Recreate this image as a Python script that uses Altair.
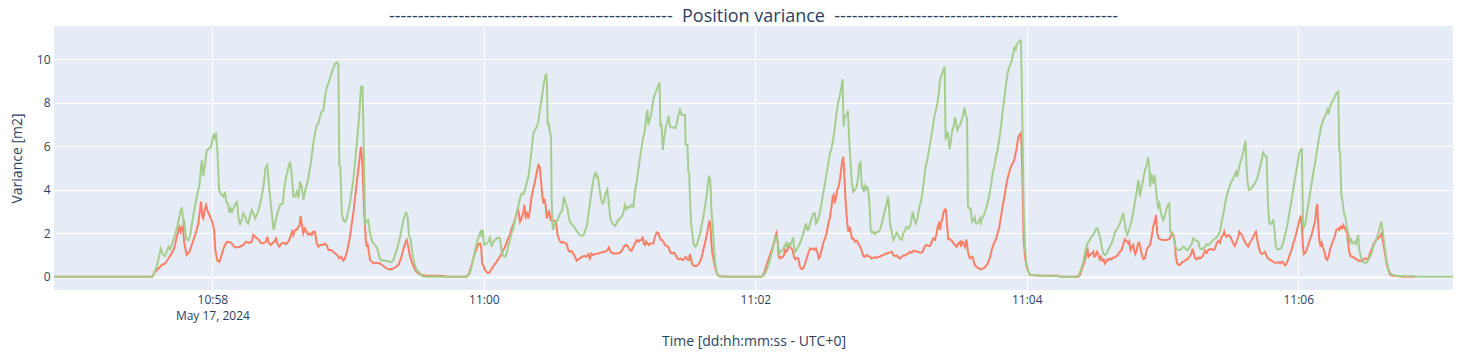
import altair as alt
import pandas as pd

# ---------------- data (seconds after 10:56:50 UTC, variance in m2) ----------------
START = "2024-05-17T10:56:50Z"
X_END_S = 618.4
TICK_S = [70, 190, 310, 430, 550]          # 10:58, 11:00, 11:02, 11:04, 11:06
Y_TICKS = [0, 2, 4, 6, 8, 10]

green_points = [
    (0, 0), (43.5, 0), (45.4, 0.46), (47.2, 1.30), (48.1, 1.04), (49.1, 0.95), (50.6, 1.38), (51.3, 1.26),
    (52.0, 1.46), (53.5, 1.92), (54.6, 2.38), (55.7, 2.91), (56.5, 3.19), (57.2, 2.45), (57.6, 2.53),
    (58.4, 1.72), (59.4, 1.69), (60.2, 1.92), (61.6, 2.84), (63.1, 3.68), (64.3, 4.22), (65.3, 5.37),
    (66.0, 4.63), (66.8, 5.21), (67.5, 5.80), (68.5, 5.90), (69.4, 5.98), (70.5, 6.52), (71.2, 6.37),
    (71.6, 6.63), (72.2, 5.83), (73.0, 3.99), (73.8, 3.80), (74.9, 3.68), (75.6, 3.91), (76.1, 3.45),
    (76.8, 3.37), (77.5, 2.94), (78.1, 3.14), (78.7, 2.99), (79.6, 3.22), (80.3, 3.37), (80.9, 3.44),
    (81.5, 2.76), (82.2, 2.38), (83.1, 2.68), (83.7, 2.91), (84.5, 2.76), (85.2, 2.53), (85.9, 2.45),
    (86.7, 2.84), (87.4, 3.07), (88.1, 2.91), (88.9, 2.68), (89.9, 2.91), (90.8, 3.22), (91.8, 3.68),
    (92.8, 4.29), (93.4, 4.98), (94.3, 5.14), (95.2, 3.99), (96.4, 2.76), (97.1, 2.15), (97.7, 2.45),
    (98.7, 2.91), (99.9, 3.30), (101.1, 3.37), (101.7, 3.99), (102.6, 4.60), (103.5, 4.98), (104.3, 5.29),
    (105.1, 4.68), (105.8, 3.68), (106.5, 3.68), (107.3, 3.91), (108.0, 3.60), (108.8, 4.37), (109.5, 4.14),
    (110.2, 3.53), (111.1, 3.99), (112.4, 4.52), (113.5, 5.21), (114.6, 6.13), (116.1, 6.98), (116.9, 7.06),
    (117.6, 7.36), (118.3, 7.59), (119.1, 7.67), (119.8, 8.28), (120.5, 8.67), (121.3, 8.90), (122.0, 9.13),
    (122.7, 9.36), (123.5, 9.59), (124.2, 9.79), (125.0, 9.85), (125.7, 9.74), (126.1, 5.14), (126.6, 5.06),
    (127.2, 2.91), (127.9, 2.61), (128.6, 2.53), (129.4, 2.68), (130.8, 3.37), (132.3, 4.45), (133.8, 6.06),
    (135.0, 7.52), (135.7, 8.74), (136.4, 8.74), (137.0, 5.52), (137.5, 2.45), (138.2, 2.53), (138.9, 2.61),
    (139.7, 1.99), (140.7, 1.61), (141.9, 1.46), (142.9, 1.30), (144.1, 0.80), (145.6, 0.74), (147.0, 0.74),
    (149.0, 0.66), (150.0, 0.77), (151.5, 1.23), (153.0, 1.84), (154.4, 2.61), (155.5, 2.94), (156.2, 2.84),
    (156.9, 1.92), (157.7, 1.69), (158.4, 1.07), (159.3, 0.61), (160.3, 0.31), (161.8, 0.15), (162.8, 0.02),
    (164.0, 0), (182.4, 0), (183.5, 0.08), (184.6, 0.46), (185.8, 1.07), (186.8, 1.53), (187.9, 1.90),
    (188.6, 2.07), (189.0, 1.84), (189.6, 2.15), (190.1, 1.46), (191.3, 1.53), (192.0, 1.61), (192.7, 1.81),
    (193.5, 1.38), (194.2, 1.61), (194.9, 1.69), (195.7, 1.76), (196.4, 1.81), (197.1, 1.76), (197.9, 1.15),
    (198.6, 0.95), (199.4, 0.92), (200.1, 1.07), (201.1, 1.53), (202.3, 2.02), (203.0, 2.22), (203.8, 2.61),
    (204.5, 2.91), (205.2, 3.22), (206.0, 3.60), (206.7, 3.83), (207.5, 3.80), (208.2, 3.99), (208.9, 4.29),
    (209.7, 4.60), (210.4, 5.14), (211.1, 5.83), (211.9, 6.60), (212.6, 6.75), (213.3, 6.87), (214.1, 7.13),
    (214.8, 7.67), (215.6, 8.21), (216.3, 8.74), (217.0, 9.13), (217.6, 9.36), (217.9, 8.90), (218.2, 7.06),
    (218.5, 6.98), (218.8, 7.09), (219.1, 6.60), (219.4, 6.67), (219.7, 6.29), (220.0, 3.53), (220.3, 2.45),
    (220.6, 2.15), (221.4, 2.45), (222.6, 2.61), (223.7, 2.91), (224.7, 3.07), (225.4, 3.68), (226.2, 3.37),
    (227.0, 3.14), (227.6, 2.68), (228.5, 2.45), (229.6, 2.33), (230.6, 2.18), (231.8, 1.99), (232.9, 1.89),
    (234.0, 1.90), (234.7, 2.07), (235.6, 2.38), (236.5, 3.07), (237.7, 3.99), (238.7, 4.60), (239.4, 4.83),
    (239.9, 4.52), (240.3, 4.68), (241.0, 4.14), (241.8, 3.60), (242.4, 3.37), (243.1, 3.45), (243.8, 3.83),
    (244.6, 4.02), (245.3, 3.30), (246.0, 2.61), (246.9, 2.45), (248.0, 2.33), (248.7, 2.45), (249.4, 2.61),
    (250.2, 2.68), (250.9, 2.76), (251.6, 2.91), (252.4, 3.30), (253.1, 3.10), (253.8, 3.22), (254.6, 3.19),
    (255.3, 3.30), (256.1, 3.22), (256.8, 3.91), (257.6, 4.37), (258.3, 4.91), (259.0, 5.44), (259.8, 5.98),
    (260.5, 6.44), (261.1, 6.67), (261.7, 7.29), (262.3, 7.67), (262.7, 6.98), (263.2, 7.21), (263.9, 7.44),
    (264.6, 7.90), (265.2, 8.28), (266.1, 8.51), (266.7, 8.67), (267.3, 8.85), (267.7, 8.93), (268.0, 6.90),
    (268.5, 7.06), (269.1, 5.83), (269.7, 6.37), (270.5, 6.90), (271.3, 7.21), (271.7, 7.39), (272.3, 6.90),
    (273.0, 6.86), (273.8, 6.86), (274.7, 6.83), (275.3, 7.06), (276.0, 7.44), (276.7, 7.67), (277.5, 7.44),
    (278.2, 7.44), (278.9, 7.44), (279.2, 6.06), (280.0, 6.06), (280.4, 4.83), (280.8, 4.75), (281.1, 3.68),
    (281.6, 2.45), (282.3, 1.84), (282.9, 1.46), (283.5, 1.38), (284.1, 1.46), (284.8, 1.69), (285.6, 1.99),
    (286.7, 2.61), (287.8, 3.22), (288.8, 3.99), (289.5, 4.65), (290.1, 4.45), (290.6, 3.07), (291.2, 2.30),
    (291.7, 1.38), (292.3, 0.61), (292.9, 0.23), (293.7, 0.03), (294.4, 0), (312.8, 0), (313.8, 0.08),
    (315.0, 0.31), (316.2, 0.69), (317.2, 1.07), (318.3, 1.53), (319.0, 1.84), (319.4, 1.87), (320.0, 1.53),
    (320.6, 1.07), (321.2, 1.15), (322.1, 1.23), (322.8, 1.38), (323.6, 1.53), (324.0, 1.38), (324.6, 1.53),
    (325.3, 1.41), (326.1, 1.61), (326.7, 1.81), (327.1, 1.38), (327.7, 1.15), (328.3, 1.23), (329.0, 1.38),
    (329.7, 1.53), (330.5, 1.76), (331.2, 1.99), (331.8, 2.22), (332.4, 2.45), (333.0, 2.15), (333.4, 2.15),
    (334.2, 2.45), (334.9, 2.68), (335.6, 2.91), (336.4, 2.91), (336.8, 2.45), (337.4, 2.53), (338.3, 2.84),
    (339.3, 3.37), (340.0, 3.83), (340.8, 4.29), (341.5, 4.75), (342.3, 5.21), (343.0, 5.67), (343.7, 5.90),
    (344.5, 6.37), (345.2, 6.90), (345.9, 7.52), (346.7, 8.05), (347.1, 8.21), (347.7, 8.51), (348.2, 8.82),
    (348.6, 9.08), (349.0, 6.90), (349.6, 7.36), (350.4, 7.44), (350.9, 7.64), (351.5, 6.29), (352.1, 5.21),
    (352.7, 4.29), (353.3, 3.91), (354.0, 3.99), (354.8, 4.14), (355.5, 4.60), (355.9, 5.14), (356.5, 5.25),
    (357.1, 4.14), (357.7, 3.99), (358.2, 4.17), (358.6, 3.99), (359.2, 4.14), (359.8, 4.06), (360.4, 3.45),
    (361.0, 2.15), (361.6, 2.02), (362.1, 2.07), (362.9, 1.96), (363.6, 2.07), (364.3, 2.06), (365.1, 2.15),
    (365.9, 2.45), (366.6, 2.76), (367.3, 3.07), (368.1, 3.37), (368.7, 3.71), (369.1, 3.22), (369.5, 2.45),
    (370.3, 2.07), (371.0, 1.69), (371.8, 1.84), (372.5, 2.02), (373.2, 1.92), (374.0, 1.72), (374.7, 1.69),
    (375.4, 1.99), (376.2, 2.15), (376.9, 2.30), (377.6, 2.22), (378.4, 2.30), (379.1, 2.68), (379.6, 2.99),
    (380.3, 2.61), (381.0, 2.45), (381.8, 2.76), (382.5, 3.22), (383.2, 3.45), (383.8, 3.83), (384.6, 4.45),
    (385.3, 5.06), (386.0, 5.37), (386.8, 5.83), (387.5, 6.29), (388.3, 6.75), (389.0, 7.29), (389.7, 7.59),
    (390.5, 7.98), (391.2, 8.51), (391.6, 9.05), (392.4, 9.28), (393.1, 9.51), (393.7, 9.66), (394.1, 6.37),
    (394.6, 6.44), (395.0, 6.67), (395.3, 6.44), (395.9, 5.86), (396.5, 6.29), (397.1, 6.75), (397.7, 6.90),
    (398.3, 7.33), (398.7, 7.13), (399.3, 6.75), (399.9, 6.90), (400.5, 6.98), (401.2, 7.21), (401.9, 7.44),
    (402.4, 7.79), (403.0, 7.44), (403.6, 7.29), (404.0, 3.22), (404.6, 3.14), (405.2, 3.14), (405.8, 2.53),
    (406.4, 2.61), (407.0, 2.73), (407.5, 2.45), (408.1, 2.45), (408.7, 2.53), (409.3, 2.68), (409.7, 2.48),
    (410.3, 2.68), (411.1, 2.84), (411.8, 3.07), (412.6, 3.37), (413.3, 3.68), (414.2, 4.22), (414.9, 4.75),
    (415.6, 5.06), (416.4, 5.52), (417.1, 5.83), (417.8, 6.29), (418.6, 6.90), (419.3, 7.59), (420.1, 8.21),
    (420.8, 8.82), (421.5, 9.36), (422.3, 9.66), (423.0, 9.82), (423.4, 9.97), (424.0, 10.28), (424.6, 10.58),
    (425.1, 10.40), (425.5, 10.66), (426.2, 10.77), (427.0, 10.86), (427.4, 10.86), (427.9, 8.28), (428.3, 5.21),
    (428.7, 2.76), (429.2, 1.38), (429.9, 0.61), (430.7, 0.23), (431.4, 0.11), (432.1, 0.08), (439.5, 0.03),
    (443.9, 0.02), (444.7, 0), (451.3, 0), (452.8, 0.03), (453.9, 0.31), (455.0, 0.69), (456.0, 1.23),
    (456.7, 1.53), (457.5, 1.61), (458.1, 1.76), (458.7, 1.84), (459.4, 1.92), (460.1, 2.07), (460.7, 2.22),
    (461.3, 2.22), (461.9, 1.99), (462.5, 1.76), (463.1, 1.38), (463.8, 1.07), (464.5, 1.00), (465.3, 1.07),
    (466.0, 1.23), (466.7, 1.38), (467.5, 1.53), (468.2, 1.76), (469.0, 2.07), (469.7, 2.15), (470.4, 2.30),
    (471.2, 2.45), (471.9, 2.68), (472.6, 2.94), (473.3, 2.45), (473.8, 2.15), (474.4, 1.92), (475.0, 2.07),
    (475.6, 2.30), (476.4, 2.61), (477.1, 2.99), (477.8, 3.45), (478.6, 3.91), (479.3, 4.45), (479.7, 4.14),
    (480.0, 3.68), (480.5, 3.99), (481.1, 4.29), (481.8, 4.68), (482.5, 4.98), (483.3, 5.29), (483.7, 5.49),
    (484.2, 4.98), (484.5, 4.14), (485.0, 4.75), (485.5, 4.45), (485.9, 4.29), (486.4, 4.68), (486.8, 4.37),
    (487.4, 3.68), (488.0, 3.22), (488.6, 3.37), (489.2, 2.99), (489.8, 2.76), (490.3, 2.61), (491.1, 2.84),
    (491.8, 3.14), (492.4, 3.30), (493.0, 3.37), (493.4, 2.07), (494.0, 1.99), (494.8, 1.84), (495.5, 1.46),
    (496.2, 1.26), (497.0, 1.23), (497.7, 1.23), (498.4, 1.30), (499.2, 1.38), (499.9, 1.33), (500.7, 1.23),
    (501.4, 1.26), (502.1, 1.38), (502.9, 1.50), (503.6, 1.76), (504.3, 1.69), (505.1, 1.66), (505.8, 1.61),
    (506.5, 1.30), (507.3, 1.26), (508.0, 1.30), (508.8, 1.38), (509.5, 1.50), (510.2, 1.46), (511.0, 1.53),
    (511.7, 1.61), (512.4, 1.69), (513.2, 1.76), (513.9, 1.81), (514.6, 1.92), (515.4, 2.07), (516.0, 2.45),
    (516.6, 2.76), (517.2, 3.07), (517.7, 3.37), (518.3, 3.68), (519.1, 3.99), (519.8, 4.22), (520.5, 4.37),
    (521.3, 4.52), (521.9, 4.68), (522.5, 4.83), (523.0, 4.60), (523.5, 4.83), (524.2, 5.21), (525.0, 5.44),
    (525.7, 5.75), (526.3, 6.06), (526.7, 6.26), (527.2, 4.91), (527.6, 4.37), (528.2, 3.99), (528.9, 4.02),
    (529.7, 4.14), (530.4, 4.22), (531.1, 4.37), (531.9, 4.52), (532.6, 4.83), (533.3, 5.14), (534.1, 5.52),
    (534.5, 5.71), (535.3, 5.55), (536.0, 5.52), (536.6, 3.37), (537.2, 2.45), (537.8, 2.42), (538.4, 2.48),
    (538.9, 2.64), (539.5, 2.15), (540.1, 1.38), (540.9, 1.26), (541.6, 1.26), (542.3, 1.30), (543.1, 1.50),
    (543.8, 1.76), (544.5, 2.07), (545.3, 2.45), (546.0, 2.91), (546.8, 3.37), (547.5, 3.83), (548.2, 4.29),
    (549.0, 4.75), (549.7, 5.21), (550.4, 5.67), (551.0, 5.83), (551.6, 5.86), (552.1, 2.45), (552.5, 2.27),
    (553.1, 2.45), (553.7, 2.84), (554.4, 3.30), (555.1, 3.76), (555.9, 4.29), (556.6, 4.75), (557.4, 5.21),
    (558.1, 5.67), (558.8, 6.13), (559.6, 6.60), (560.0, 6.87), (560.6, 7.06), (561.3, 7.29), (562.1, 7.44),
    (562.5, 7.52), (562.9, 7.67), (563.5, 7.55), (564.0, 7.82), (564.7, 7.98), (565.5, 8.13), (566.2, 8.28),
    (566.9, 8.44), (567.7, 8.51), (568.1, 5.83), (568.5, 5.75), (569.0, 3.83), (569.6, 3.45), (570.2, 2.91),
    (570.8, 2.76), (571.3, 2.38), (571.9, 2.07), (572.5, 1.84), (573.0, 1.61), (573.4, 1.69), (573.9, 1.53),
    (574.3, 1.56), (574.9, 1.61), (575.5, 1.50), (576.1, 1.76), (576.5, 1.92), (576.9, 1.26), (577.5, 1.00),
    (578.1, 0.77), (578.7, 0.67), (579.4, 0.64), (580.2, 0.64), (580.9, 0.77), (581.7, 0.92), (582.4, 1.10),
    (583.1, 1.38), (583.9, 1.56), (584.6, 1.76), (585.3, 1.99), (586.1, 2.30), (586.7, 2.53), (587.3, 2.15),
    (587.8, 1.69), (588.4, 1.23), (589.0, 0.77), (589.8, 0.38), (590.5, 0.20), (591.2, 0.11), (592.0, 0.08),
    (593.4, 0.05), (596.4, 0.03), (600.8, 0.02), (603.7, 0), (618.4, 0),
]

red_points = [
    (0, 0), (43.5, 0), (44.7, 0.23), (46.2, 0.38), (47.6, 0.54), (49.1, 0.61), (50.6, 0.84), (52.0, 1.07),
    (53.1, 1.30), (54.3, 1.84), (55.4, 2.30), (56.0, 2.07), (56.9, 2.38), (57.6, 1.53), (58.7, 1.00),
    (59.9, 1.15), (60.9, 1.46), (62.4, 1.92), (63.8, 2.45), (65.0, 3.45), (65.6, 2.76), (66.0, 2.68),
    (66.6, 3.07), (67.2, 3.30), (68.0, 2.99), (69.0, 2.76), (70.2, 2.45), (70.8, 2.15), (71.3, 1.23),
    (72.2, 0.74), (73.1, 0.69), (74.1, 1.00), (75.2, 1.38), (76.4, 1.60), (77.5, 1.60), (78.6, 1.53),
    (79.6, 1.38), (80.8, 1.35), (82.2, 1.38), (83.7, 1.46), (84.9, 1.61), (85.9, 1.56), (87.4, 1.61),
    (88.1, 1.92), (89.2, 1.81), (90.3, 1.72), (91.4, 1.56), (92.5, 1.53), (93.7, 1.61), (94.3, 1.84),
    (94.9, 1.56), (95.8, 1.46), (96.7, 1.56), (97.4, 1.61), (98.1, 1.76), (98.7, 1.53), (99.6, 1.38),
    (100.6, 1.53), (101.7, 1.56), (102.6, 1.50), (103.6, 1.61), (104.6, 1.84), (105.2, 2.07), (105.8, 1.92),
    (106.5, 2.15), (107.3, 2.15), (108.0, 2.30), (108.5, 2.33), (109.0, 2.79), (109.6, 2.38), (110.2, 1.99),
    (111.0, 2.22), (111.7, 2.07), (112.4, 1.92), (113.2, 1.99), (113.9, 1.92), (114.6, 2.07), (115.4, 2.07),
    (116.1, 1.53), (116.9, 1.38), (117.6, 1.46), (118.8, 1.46), (119.8, 1.53), (120.5, 1.46), (121.3, 1.23),
    (122.3, 1.23), (123.5, 1.15), (124.2, 1.07), (125.2, 1.00), (126.1, 0.84), (127.0, 0.92), (127.9, 0.74),
    (128.6, 0.84), (129.7, 1.23), (130.8, 1.84), (132.3, 2.91), (133.8, 4.29), (135.0, 5.37), (135.7, 5.98),
    (136.3, 5.21), (137.0, 3.22), (137.8, 1.69), (138.2, 1.38), (138.6, 1.53), (139.7, 0.77), (141.2, 0.61),
    (142.6, 0.64), (144.1, 0.61), (145.6, 0.49), (147.0, 0.38), (147.8, 0.34), (149.3, 0.34), (150.8, 0.43),
    (152.2, 0.54), (153.4, 0.84), (154.4, 1.26), (155.5, 1.61), (155.9, 1.69), (156.6, 1.38), (157.4, 0.92),
    (158.4, 0.61), (159.6, 0.31), (161.1, 0.15), (162.5, 0.08), (164.0, 0.06), (168.4, 0.05), (172.6, 0.03),
    (173.1, 0), (182.4, 0), (183.5, 0.15), (184.6, 0.54), (185.8, 1.00), (186.8, 1.30), (187.6, 1.50),
    (188.3, 1.53), (188.8, 1.38), (189.3, 0.61), (189.9, 0.49), (190.5, 0.31), (191.3, 0.20), (192.3, 0.18),
    (193.2, 0.31), (194.2, 0.49), (195.2, 0.61), (196.1, 0.77), (197.1, 0.92), (198.2, 1.15), (199.4, 1.38),
    (200.5, 1.69), (201.6, 1.95), (202.3, 2.22), (203.0, 2.38), (204.1, 2.76), (205.0, 3.14), (205.5, 2.91),
    (206.0, 2.53), (206.7, 2.68), (207.5, 2.99), (207.9, 3.30), (208.5, 2.76), (209.1, 2.91), (209.7, 2.68),
    (210.4, 3.07), (211.1, 3.68), (211.9, 4.06), (212.6, 4.37), (213.3, 4.75), (214.1, 5.14), (214.7, 5.06),
    (215.3, 4.37), (215.9, 3.68), (216.3, 3.37), (216.7, 3.60), (217.3, 3.30), (217.8, 2.68), (218.5, 2.91),
    (218.9, 2.99), (219.5, 2.61), (220.3, 2.58), (221.2, 2.58), (221.9, 2.53), (222.6, 1.92), (223.7, 1.61),
    (224.4, 1.56), (225.1, 1.61), (225.9, 1.53), (226.6, 1.53), (227.3, 1.23), (228.1, 1.15), (228.8, 1.18),
    (229.5, 1.07), (230.3, 0.92), (231.0, 0.74), (231.8, 0.80), (232.5, 0.84), (233.2, 0.92), (234.7, 0.95),
    (235.4, 0.92), (236.2, 1.04), (236.9, 0.84), (237.6, 1.07), (238.4, 1.00), (239.1, 1.04), (240.6, 1.07),
    (242.1, 1.13), (243.5, 1.15), (244.7, 1.23), (245.3, 1.35), (246.0, 1.15), (247.2, 1.07), (248.7, 1.07),
    (250.2, 1.10), (251.2, 1.23), (252.1, 1.41), (253.1, 1.46), (253.8, 1.38), (254.6, 1.23), (255.3, 1.18),
    (256.1, 1.38), (256.8, 1.53), (257.6, 1.69), (258.3, 1.61), (259.0, 1.69), (259.8, 1.69), (260.2, 1.84),
    (260.7, 1.53), (261.3, 1.46), (261.7, 1.61), (262.3, 1.53), (262.9, 1.46), (263.5, 1.53), (264.2, 1.53),
    (264.9, 1.53), (265.7, 1.84), (266.4, 2.04), (267.2, 1.99), (267.6, 1.84), (268.2, 1.69), (268.8, 1.69),
    (269.4, 1.61), (270.1, 1.46), (270.8, 1.41), (271.6, 1.38), (272.0, 1.23), (272.6, 1.10), (273.3, 1.07),
    (274.1, 1.10), (274.8, 1.00), (275.5, 0.84), (276.3, 0.80), (277.0, 0.84), (277.8, 0.77), (278.5, 0.80),
    (279.2, 0.92), (280.0, 0.80), (280.7, 0.77), (281.1, 1.04), (281.6, 0.84), (282.0, 0.61), (282.6, 0.51),
    (283.4, 0.49), (284.1, 0.49), (284.8, 0.57), (285.6, 0.69), (286.3, 0.92), (287.0, 1.23), (288.2, 1.76),
    (289.2, 2.30), (289.7, 2.58), (290.1, 2.45), (290.6, 1.53), (291.0, 1.07), (291.5, 0.84), (292.0, 0.54),
    (292.6, 0.28), (293.2, 0.11), (294.1, 0.03), (296.6, 0.02), (297.3, 0), (312.8, 0), (313.8, 0.15),
    (315.0, 0.54), (316.2, 0.92), (317.2, 1.23), (318.3, 1.56), (319.0, 1.92), (319.4, 2.02), (319.9, 1.61),
    (320.3, 0.92), (320.9, 0.84), (321.6, 0.92), (322.1, 0.89), (322.7, 1.00), (323.1, 1.23), (323.6, 1.15),
    (324.2, 1.23), (324.7, 1.41), (325.3, 1.38), (325.9, 1.30), (326.5, 1.23), (327.1, 0.92), (327.7, 0.80),
    (328.3, 0.87), (329.0, 0.84), (329.7, 0.46), (330.5, 0.35), (331.2, 0.38), (332.0, 0.61), (332.7, 0.84),
    (333.4, 1.07), (334.2, 1.30), (334.9, 1.26), (335.6, 1.30), (336.4, 1.23), (336.8, 1.30), (337.4, 1.15),
    (338.0, 0.84), (338.6, 0.92), (339.3, 1.23), (340.0, 1.53), (340.8, 1.76), (341.5, 1.99), (342.3, 2.45),
    (343.0, 2.76), (343.7, 3.22), (344.2, 3.68), (344.6, 3.76), (345.0, 3.37), (345.6, 3.60), (346.2, 3.99),
    (346.8, 4.14), (347.4, 4.45), (347.9, 4.91), (348.4, 5.29), (348.9, 5.52), (349.3, 4.75), (349.8, 3.68),
    (350.4, 2.76), (350.8, 2.30), (351.2, 2.07), (351.8, 2.30), (352.3, 1.99), (352.7, 1.76), (353.3, 1.76),
    (354.0, 1.61), (354.8, 1.66), (355.5, 1.53), (356.3, 1.38), (357.0, 1.23), (357.7, 0.95), (358.5, 0.92),
    (359.2, 1.00), (359.9, 0.95), (360.7, 0.92), (361.4, 0.84), (362.1, 0.87), (362.9, 0.89), (363.6, 0.87),
    (364.3, 0.92), (365.1, 0.92), (365.9, 0.98), (366.6, 1.00), (367.3, 1.04), (368.1, 1.07), (368.8, 1.10),
    (369.5, 1.12), (370.3, 1.15), (371.0, 1.00), (371.8, 0.95), (372.5, 0.98), (373.2, 0.89), (374.0, 0.84),
    (374.7, 0.92), (375.4, 0.98), (376.2, 0.98), (376.9, 1.04), (377.6, 1.07), (378.4, 1.15), (379.1, 1.10),
    (379.9, 1.20), (380.6, 1.20), (381.3, 1.15), (382.1, 1.15), (382.8, 1.10), (383.5, 1.10), (384.3, 1.23),
    (385.0, 1.41), (385.7, 1.46), (386.5, 1.41), (387.2, 1.41), (388.0, 1.61), (388.7, 1.76), (389.4, 1.69),
    (390.0, 1.92), (390.6, 2.30), (391.2, 2.45), (391.6, 2.15), (392.1, 2.45), (392.7, 2.68), (393.3, 2.99),
    (393.9, 3.10), (394.3, 3.07), (394.7, 2.45), (395.3, 1.72), (396.1, 1.72), (396.8, 1.66), (397.5, 1.56),
    (398.3, 1.46), (399.0, 1.38), (399.7, 1.53), (400.5, 1.60), (400.9, 1.38), (401.5, 1.61), (402.1, 1.53),
    (402.7, 1.38), (403.3, 1.72), (403.9, 1.23), (404.5, 0.92), (405.0, 0.84), (405.6, 0.92), (406.2, 0.89),
    (406.7, 0.61), (407.4, 0.49), (408.1, 0.43), (408.9, 0.37), (409.8, 0.34), (410.5, 0.38), (411.2, 0.41),
    (412.0, 0.49), (412.7, 0.61), (413.4, 0.77), (414.2, 1.10), (414.9, 1.38), (415.6, 1.56), (416.4, 1.72),
    (417.1, 1.99), (417.9, 2.30), (418.6, 2.76), (419.3, 3.22), (420.1, 3.68), (420.8, 4.14), (421.5, 4.52),
    (422.3, 4.83), (423.0, 5.06), (423.7, 5.21), (424.5, 5.37), (424.9, 5.60), (425.4, 5.83), (425.8, 6.13),
    (426.3, 6.44), (426.7, 6.52), (427.3, 6.60), (427.7, 6.06), (428.2, 3.99), (428.6, 1.76), (429.2, 0.92),
    (429.9, 0.46), (430.7, 0.23), (431.4, 0.08), (432.1, 0.08), (436.6, 0.05), (443.9, 0.05), (444.7, 0),
    (452.8, 0), (453.5, 0.08), (454.2, 0.31), (455.0, 0.54), (455.7, 0.77), (456.4, 1.10), (456.9, 1.23),
    (457.3, 0.92), (457.9, 1.00), (458.7, 1.07), (459.4, 1.15), (459.8, 0.92), (460.4, 0.95), (461.0, 1.15),
    (461.6, 1.04), (462.2, 0.80), (462.8, 0.92), (463.4, 0.74), (464.0, 0.80), (464.5, 0.61), (465.1, 0.69),
    (465.7, 0.80), (466.3, 0.77), (466.9, 0.84), (467.5, 0.80), (468.2, 0.89), (469.0, 0.89), (469.7, 0.95),
    (470.4, 1.04), (471.2, 1.15), (471.9, 1.23), (472.6, 1.46), (473.3, 1.72), (473.8, 1.66), (474.4, 1.61),
    (474.9, 1.53), (475.3, 1.61), (475.9, 1.23), (476.5, 1.38), (477.1, 1.46), (477.4, 1.23), (478.0, 1.04),
    (478.6, 1.23), (479.2, 1.53), (479.7, 1.56), (480.3, 1.30), (480.9, 1.00), (481.5, 0.80), (482.2, 0.84),
    (483.0, 1.23), (483.7, 1.38), (484.5, 1.46), (485.2, 1.84), (485.9, 2.30), (486.7, 2.61), (487.1, 2.84),
    (487.7, 1.99), (488.3, 1.76), (488.9, 1.72), (490.3, 1.69), (491.8, 1.69), (493.0, 1.73), (493.6, 1.84),
    (494.2, 2.02), (494.8, 1.92), (495.4, 1.61), (495.9, 0.92), (496.5, 0.61), (497.1, 0.54), (497.7, 0.54),
    (498.4, 0.64), (499.2, 0.69), (499.9, 0.74), (500.7, 0.80), (501.4, 0.84), (502.1, 0.95), (502.9, 1.10),
    (503.3, 1.29), (503.9, 1.04), (504.5, 0.84), (505.1, 0.80), (505.8, 0.89), (506.5, 0.84), (507.3, 0.89),
    (508.0, 1.00), (508.8, 1.20), (509.5, 1.10), (510.2, 1.23), (511.0, 1.27), (511.7, 1.26), (512.4, 1.23),
    (513.2, 1.30), (513.9, 1.53), (514.6, 1.66), (515.4, 1.56), (516.1, 1.84), (516.9, 1.92), (517.3, 2.07),
    (517.7, 1.92), (518.3, 1.84), (519.1, 1.92), (519.8, 1.87), (520.5, 1.72), (521.3, 1.53), (522.0, 1.41),
    (522.7, 1.61), (523.5, 1.84), (523.9, 2.07), (524.5, 1.99), (525.1, 1.92), (525.7, 1.76), (526.4, 1.61),
    (527.2, 1.46), (527.9, 1.38), (528.6, 1.56), (529.4, 1.69), (530.1, 1.84), (530.8, 1.99), (531.3, 2.07),
    (531.9, 1.69), (532.5, 1.38), (533.1, 1.15), (533.8, 1.04), (534.5, 1.07), (535.3, 1.15), (536.0, 0.95),
    (536.7, 0.84), (537.5, 0.77), (538.2, 0.74), (538.9, 0.69), (539.7, 0.64), (540.4, 0.64), (541.2, 0.67),
    (541.9, 0.61), (542.5, 0.67), (543.1, 0.69), (543.7, 0.58), (544.2, 0.52), (544.8, 0.61), (545.6, 0.80),
    (546.3, 1.04), (547.0, 1.23), (547.8, 1.53), (548.5, 1.76), (549.3, 2.07), (550.0, 2.38), (550.7, 2.68),
    (551.2, 2.81), (551.6, 2.30), (552.1, 1.38), (552.5, 1.04), (553.1, 1.10), (553.7, 1.23), (554.4, 1.46),
    (555.1, 1.69), (555.9, 1.92), (556.6, 2.22), (557.4, 2.53), (558.1, 3.22), (558.4, 3.34), (558.8, 2.45),
    (559.3, 1.69), (559.9, 1.38), (560.4, 1.56), (561.0, 1.30), (561.6, 1.15), (562.2, 0.84), (562.8, 0.77),
    (563.4, 0.92), (564.0, 1.23), (564.7, 1.46), (565.5, 1.69), (566.2, 1.87), (566.9, 2.18), (567.7, 2.22),
    (568.1, 2.15), (568.7, 2.30), (569.3, 2.22), (569.9, 2.38), (570.5, 2.22), (571.1, 2.15), (571.6, 1.99),
    (572.1, 1.53), (572.5, 1.15), (573.1, 0.95), (573.7, 0.92), (574.3, 0.92), (575.0, 0.84), (575.8, 0.80),
    (576.5, 0.74), (577.2, 0.74), (578.0, 0.72), (578.7, 0.77), (579.4, 0.84), (580.2, 0.84), (580.9, 0.77),
    (581.7, 1.07), (582.4, 1.23), (583.1, 1.46), (583.9, 1.61), (584.6, 1.72), (585.3, 1.76), (586.1, 1.84),
    (586.8, 1.99), (587.3, 1.69), (587.8, 1.38), (588.4, 1.07), (589.0, 0.61), (589.8, 0.31), (590.5, 0.12),
    (591.2, 0.06), (592.0, 0.05), (593.4, 0.03), (596.4, 0), (601.5, 0),
]

GREEN = "#A5CD8E"
RED = "#FA7F66"

# ---------------- build ----------------
base_ms = int(pd.Timestamp(START).value // 10**6)


def frame(points):
    return pd.DataFrame({
        "time": [base_ms + int(round(t * 1000)) for t, _ in points],
        "variance": [v for _, v in points],
    })


tick_ms = [base_ms + int(t * 1000) for t in TICK_S]
first_tick = tick_ms[0]

x_scale = alt.Scale(type="utc", domain=[base_ms, base_ms + int(X_END_S * 1000)], nice=False)
y_scale = alt.Scale(domain=[-0.61, 11.53], nice=False, zero=False)

x_axis = alt.Axis(
    values=tick_ms,
    title="Time [dd:hh:mm:ss - UTC+0]",
    labelExpr=(
        f"+datum.value == {first_tick} ? [utcFormat(datum.value, '%H:%M'), utcFormat(datum.value, '%b %-d, %Y')]"
        " : utcFormat(datum.value, '%H:%M')"
    ),
    labelPadding=4,
    labelLineHeight=16,
    labelFlush=False,
    labelOverlap=False,
    titleY=51,
    titleBaseline="middle",
)
y_axis = alt.Axis(
    values=Y_TICKS,
    title="Variance [m2]",
    labelPadding=4,
    titleAngle=270,
    titleX=-37,
    titleY=132,
    titleAlign="center",
    titleBaseline="middle",
    gridWidth={"condition": {"test": "datum.value === 0", "value": 2}, "value": 1},
)

red_line = alt.Chart(frame(red_points)).mark_line(strokeWidth=2, color=RED).encode(
    x=alt.X("time:T", scale=x_scale, axis=x_axis),
    y=alt.Y("variance:Q", scale=y_scale, axis=y_axis),
)
green_line = alt.Chart(frame(green_points)).mark_line(strokeWidth=2, color=GREEN).encode(
    x=alt.X("time:T", scale=x_scale, axis=x_axis),
    y=alt.Y("variance:Q", scale=y_scale, axis=y_axis),
)

dashes = "-" * 49
gap = "\u00a0\u00a0"
chart = (
    alt.layer(red_line, green_line)
    .properties(
        width=1399,
        height=264,
        autosize=alt.AutoSizeParams(type="none"),
        padding={"left": 46, "top": 18, "right": 0, "bottom": 64},
        background="white",
        title=alt.TitleParams(
            text=f"{dashes}{gap}Position variance{gap}{dashes}",
            anchor="middle",
            font="Open Sans",
            fontSize=18,
            fontWeight="normal",
            color="#2a3f5f",
            baseline="middle",
            offset=8,
            dy=17,
        ),
    )
    .configure_view(fill="#E5ECF6", strokeWidth=0)
    .configure_axis(
        domain=False,
        ticks=False,
        gridColor="white",
        labelFont="Open Sans",
        labelFontSize=12,
        labelColor="#2a3f5f",
        titleFont="Open Sans",
        titleFontSize=14,
        titleFontWeight="normal",
        titleColor="#2a3f5f",
    )
)

chart.save("out.html", embed_options={"renderer": "svg", "actions": False})
